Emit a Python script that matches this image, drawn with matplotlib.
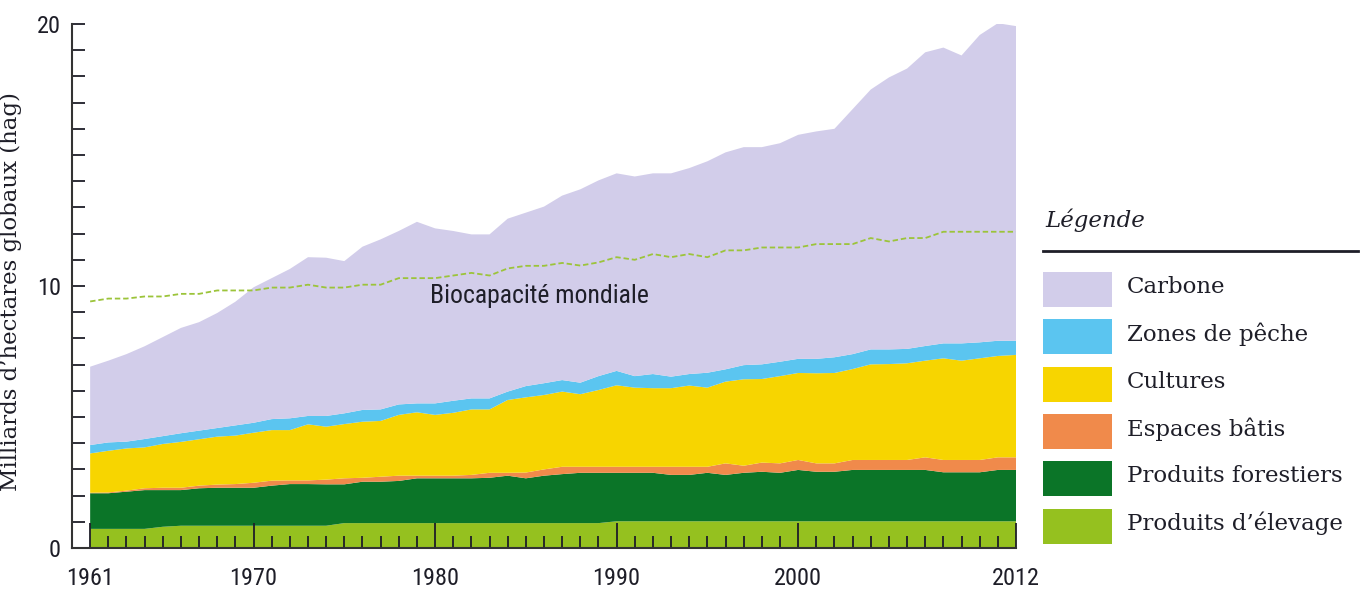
import numpy as np
from matplotlib import pyplot as plt
from matplotlib import font_manager
from matplotlib.patches import Rectangle

years = list(range(1961, 2013))

# layer thickness per year, in billions of global hectares (bottom to top)
elevage = [0.73]*4 + [0.81] + [0.85]*9 + [0.95]*15 + [1.02]*23
forestiers = [1.36, 1.36, 1.42, 1.48, 1.40, 1.36, 1.43, 1.45, 1.45, 1.45,
              1.53, 1.59, 1.59, 1.58, 1.48, 1.58, 1.58, 1.61, 1.71, 1.71,
              1.71, 1.71, 1.73, 1.81, 1.71, 1.81, 1.87, 1.92, 1.92, 1.85,
              1.85, 1.85, 1.77, 1.77, 1.85, 1.77, 1.85, 1.89, 1.85, 1.96,
              1.89, 1.89, 1.96, 1.96, 1.96, 1.96, 1.96, 1.87, 1.87, 1.87,
              1.96, 1.96]
batis = [0.02, 0.03, 0.04, 0.07, 0.09, 0.09, 0.10, 0.12, 0.14, 0.19,
         0.19, 0.14, 0.14, 0.18, 0.23, 0.15, 0.19, 0.20, 0.10, 0.10,
         0.10, 0.13, 0.19, 0.11, 0.22, 0.24, 0.28, 0.23, 0.23, 0.23,
         0.23, 0.23, 0.31, 0.31, 0.23, 0.44, 0.27, 0.35, 0.36, 0.38,
         0.32, 0.32, 0.38, 0.38, 0.38, 0.38, 0.48, 0.47, 0.47, 0.47,
         0.48, 0.48]
cultures = [1.50, 1.59, 1.61, 1.56, 1.67, 1.75, 1.77, 1.83, 1.85, 1.91,
            1.93, 1.92, 2.14, 2.02, 2.07, 2.14, 2.13, 2.32, 2.42, 2.32,
            2.40, 2.50, 2.42, 2.78, 2.87, 2.84, 2.87, 2.77, 2.93, 3.11,
            3.02, 3.00, 3.00, 3.10, 3.02, 3.12, 3.30, 3.19, 3.33, 3.32,
            3.44, 3.45, 3.47, 3.65, 3.66, 3.69, 3.69, 3.88, 3.79, 3.88,
            3.87, 3.91]
peche = [0.32, 0.32, 0.26, 0.32, 0.30, 0.33, 0.33, 0.33, 0.39, 0.38,
         0.42, 0.45, 0.32, 0.41, 0.41, 0.45, 0.44, 0.40, 0.34, 0.44,
         0.46, 0.42, 0.42, 0.32, 0.43, 0.45, 0.44, 0.44, 0.53, 0.55,
         0.44, 0.54, 0.44, 0.44, 0.57, 0.47, 0.54, 0.56, 0.55, 0.54,
         0.55, 0.60, 0.57, 0.57, 0.56, 0.55, 0.56, 0.57, 0.66, 0.61,
         0.58, 0.54]
carbone = [2.99, 3.12, 3.34, 3.54, 3.78, 4.02, 4.14, 4.39, 4.72, 5.17,
           5.38, 5.70, 6.06, 6.04, 5.81, 6.23, 6.49, 6.62, 6.93, 6.68,
           6.48, 6.26, 6.26, 6.60, 6.62, 6.74, 7.04, 7.38, 7.47, 7.54,
           7.62, 7.66, 7.76, 7.86, 8.07, 8.28, 8.32, 8.29, 8.34, 8.55,
           8.68, 8.72, 9.35, 9.92, 10.38, 10.70, 11.21, 11.29, 10.99, 11.73,
           12.12, 12.01]
biocapacite = [9.41, 9.52, 9.52, 9.60, 9.60, 9.70, 9.70, 9.83, 9.83, 9.83,
               9.94, 9.94, 10.05, 9.94, 9.94, 10.05, 10.05, 10.30, 10.30, 10.30,
               10.40, 10.50, 10.40, 10.67, 10.77, 10.77, 10.88, 10.78, 10.90, 11.10,
               11.00, 11.22, 11.10, 11.22, 11.10, 11.36, 11.36, 11.47, 11.47, 11.47,
               11.60, 11.60, 11.60, 11.83, 11.70, 11.83, 11.83, 12.07, 12.07, 12.07,
               12.07, 12.07]

labels = ['Produits d\u2019élevage', 'Produits forestiers', 'Espaces bâtis',
          'Cultures', 'Zones de pêche', 'Carbone']
colors = ['#95c11f', '#0b7528', '#f08a4b', '#f7d500', '#5bc5f0', '#d2cdea']
xticks = [1961, 1970, 1980, 1990, 2000, 2012]

# condensed sans for numbers, serif for the rest
names = {f.name for f in font_manager.fontManager.ttflist}
cond = 'DejaVu Sans'
for n in ['Liberation Sans Narrow', 'Roboto Condensed', 'Open Sans Condensed']:
    if n in names:
        cond = n
        break
serif = 'DejaVu Serif'
ink = '#1e1e28'

fig = plt.figure(figsize=(13.63, 5.89), dpi=100)
ax = fig.add_axes([72/1363, 1-548/589, (1016-72)/1363, (548-24)/589])

ax.stackplot(years, elevage, forestiers, batis, cultures, peche, carbone,
             colors=colors, linewidth=0, edgecolor='none')
ax.plot(years, biocapacite, color='#9cc43a', lw=1.3, ls=(0, (3, 1.6)))
ax.text(1979.7, 9.6, 'Biocapacité mondiale', family=cond, fontsize=18.5,
        color=ink, va='center', ha='left')

ax.set_xlim(1960, 2012)
ax.set_ylim(0, 20)
ax.set_xticks(xticks)
ax.set_xticks(years, minor=True)
ax.set_yticks([0, 10, 20])
ax.set_yticks(range(0, 21), minor=True)
ax.tick_params(axis='x', which='major', direction='in', length=18, width=1.3,
               pad=14, colors=ink, labelsize=17.5)
ax.tick_params(axis='x', which='minor', direction='in', length=9, width=1.3,
               colors=ink)
ax.tick_params(axis='y', which='both', direction='in', length=9, width=1.3,
               pad=8, colors=ink, labelsize=17.5)
for lab in ax.get_xticklabels() + ax.get_yticklabels():
    lab.set_family(cond)
for s in ['top', 'right']:
    ax.spines[s].set_visible(False)
for s in ['left', 'bottom']:
    ax.spines[s].set_color('#333333')
    ax.spines[s].set_linewidth(1.5)
ax.set_ylabel('Milliards d\u2019hectares globaux (hag)', family=serif,
              fontsize=16.5, color=ink)
ax.yaxis.set_label_coords(-0.053, 0.49)

# legend drawn in pixel coords on an overlay
lg = fig.add_axes([0, 0, 1, 1], zorder=5)
lg.set_xlim(0, 1363)
lg.set_ylim(589, 0)
lg.axis('off')
lg.text(1045, 220, 'Légende', family=serif, style='italic', fontsize=16.5,
        color=ink, va='center')
lg.plot([1043, 1358], [251, 251], color=ink, lw=2)
for i, (lab, col) in enumerate(zip(labels[::-1], colors[::-1])):
    top = 272 + i*47.3
    lg.add_patch(Rectangle((1043, top), 69, 35, facecolor=col, edgecolor='none'))
    lg.text(1127, top + 15, lab, family=serif, fontsize=16.5, color=ink,
            va='center')

plt.savefig('out.png', dpi=100)
